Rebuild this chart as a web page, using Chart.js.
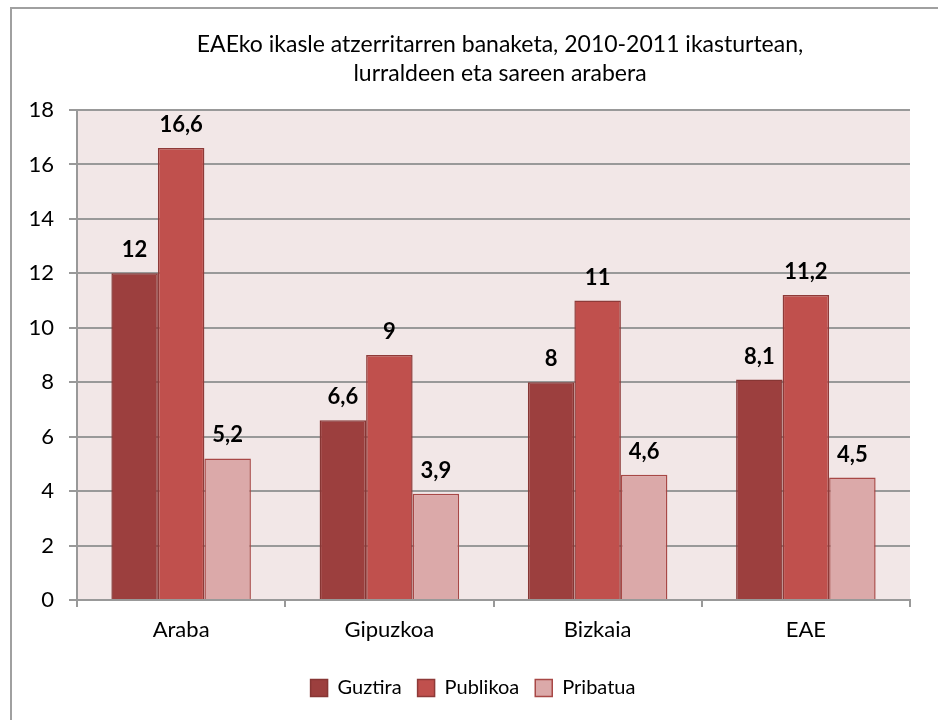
<!DOCTYPE html>
<html>
<head>
<meta charset="utf-8">
<script src="https://cdn.jsdelivr.net/npm/chart.js@4.4.1/dist/chart.umd.min.js"></script>
<style>
  html, body { margin: 0; padding: 0; background: #ffffff; overflow: hidden; }
  #frame { position: absolute; left: 10px; top: 7px; width: 2000px; height: 2000px;
           border-left: 2px solid #a0a0a0; border-top: 2px solid #a0a0a0; }
  #wrap { position: absolute; left: 0; top: 0; width: 938px; height: 720px; }
</style>
</head>
<body>
<div id="frame"></div>
<div id="wrap"><canvas id="c" width="938" height="720"></canvas></div>
<script>
const titleLines = ['EAEko ikasle atzerritarren banaketa, 2010-2011 ikasturtean,', 'lurraldeen eta sareen arabera'];
const categories = ['Araba', 'Gipuzkoa', 'Bizkaia', 'EAE'];
const seriesNames = ['Guztira', 'Publikoa', 'Pribatua'];
const guztira = [12, 6.6, 8, 8.1];
const publikoa = [16.6, 9, 11, 11.2];
const pribatua = [5.2, 3.9, 4.6, 4.5];
const yMin = 0, yMax = 18, yStep = 2;

const FONT = 'Lato, "Open Sans", sans-serif';

const plotBg = {
  id: 'plotBg',
  beforeDraw(chart) {
    const a = chart.chartArea, ctx = chart.ctx;
    ctx.save();
    ctx.fillStyle = '#f2e7e7';
    ctx.fillRect(a.left, a.top, a.right - a.left, a.bottom - a.top);
    ctx.restore();
  }
};

// The original chart frame is wider than the visible picture, so its title and
// legend sit a little to the right of the plot centre.
const shiftBlocks = {
  id: 'shiftBlocks',
  afterLayout(chart) {
    if (chart.titleBlock) { chart.titleBlock.left = 90; chart.titleBlock.right = 910; }
    if (chart.legend) { chart.legend.left += 18; chart.legend.right += 18; }
  }
};

const valueLabels = {
  id: 'valueLabels',
  afterDatasetsDraw(chart) {
    const ctx = chart.ctx;
    ctx.save();
    ctx.font = 'bold 22px ' + FONT;
    ctx.fillStyle = '#000';
    ctx.textAlign = 'center';
    ctx.textBaseline = 'alphabetic';
    chart.data.datasets.forEach((ds, di) => {
      const meta = chart.getDatasetMeta(di);
      meta.data.forEach((bar, i) => {
        const txt = String(ds.data[i]).replace('.', ',');
        ctx.fillText(txt, bar.x, bar.y - 16);
      });
    });
    ctx.restore();
  }
};

new Chart(document.getElementById('c'), {
  type: 'bar',
  data: {
    labels: categories,
    datasets: [
      { label: seriesNames[0], data: guztira, backgroundColor: '#9c3f3e', borderColor: '#873634', borderWidth: 1.5 },
      { label: seriesNames[1], data: publikoa, backgroundColor: '#c0504d', borderColor: '#8e3a38', borderWidth: 1.5 },
      { label: seriesNames[2], data: pribatua, backgroundColor: '#dba9a9', borderColor: '#a84846', borderWidth: 1.5 }
    ]
  },
  options: {
    responsive: false,
    animation: false,
    devicePixelRatio: 1,
    layout: { padding: { left: 0, right: 28, top: 0, bottom: 12 } },
    datasets: { bar: { categoryPercentage: 0.67, barPercentage: 1.0, borderSkipped: 'start' } },
    plugins: {
      title: {
        display: true,
        text: titleLines,
        color: '#000',
        font: { family: FONT, size: 23, weight: 'normal', lineHeight: 29 / 23 },
        padding: { top: 30.5, bottom: 21.5 }
      },
      legend: {
        display: true,
        position: 'bottom',
        labels: {
          color: '#000',
          font: { family: FONT, size: 20 },
          boxWidth: 17,
          boxHeight: 17,
          padding: 16
        }
      },
      tooltip: { enabled: false }
    },
    scales: {
      x: {
        offset: true,
        grid: { display: true, drawOnChartArea: false, drawTicks: true, tickLength: 7, color: '#999', lineWidth: 2, offset: true },
        border: { display: true, color: '#999', width: 2 },
        ticks: { color: '#000', font: { family: FONT, size: 22 }, padding: 10 },
        afterFit(s) { s.height = 62; }
      },
      y: {
        min: yMin, max: yMax,
        grid: { color: '#999', lineWidth: 2, tickLength: 8, drawTicks: true },
        border: { display: true, color: '#999', width: 2 },
        ticks: { stepSize: yStep, color: '#000', font: { family: FONT, size: 22 }, padding: 15 },
        afterFit(s) { s.width = 77; }
      }
    }
  },
  plugins: [plotBg, shiftBlocks, valueLabels]
});
</script>
</body>
</html>
